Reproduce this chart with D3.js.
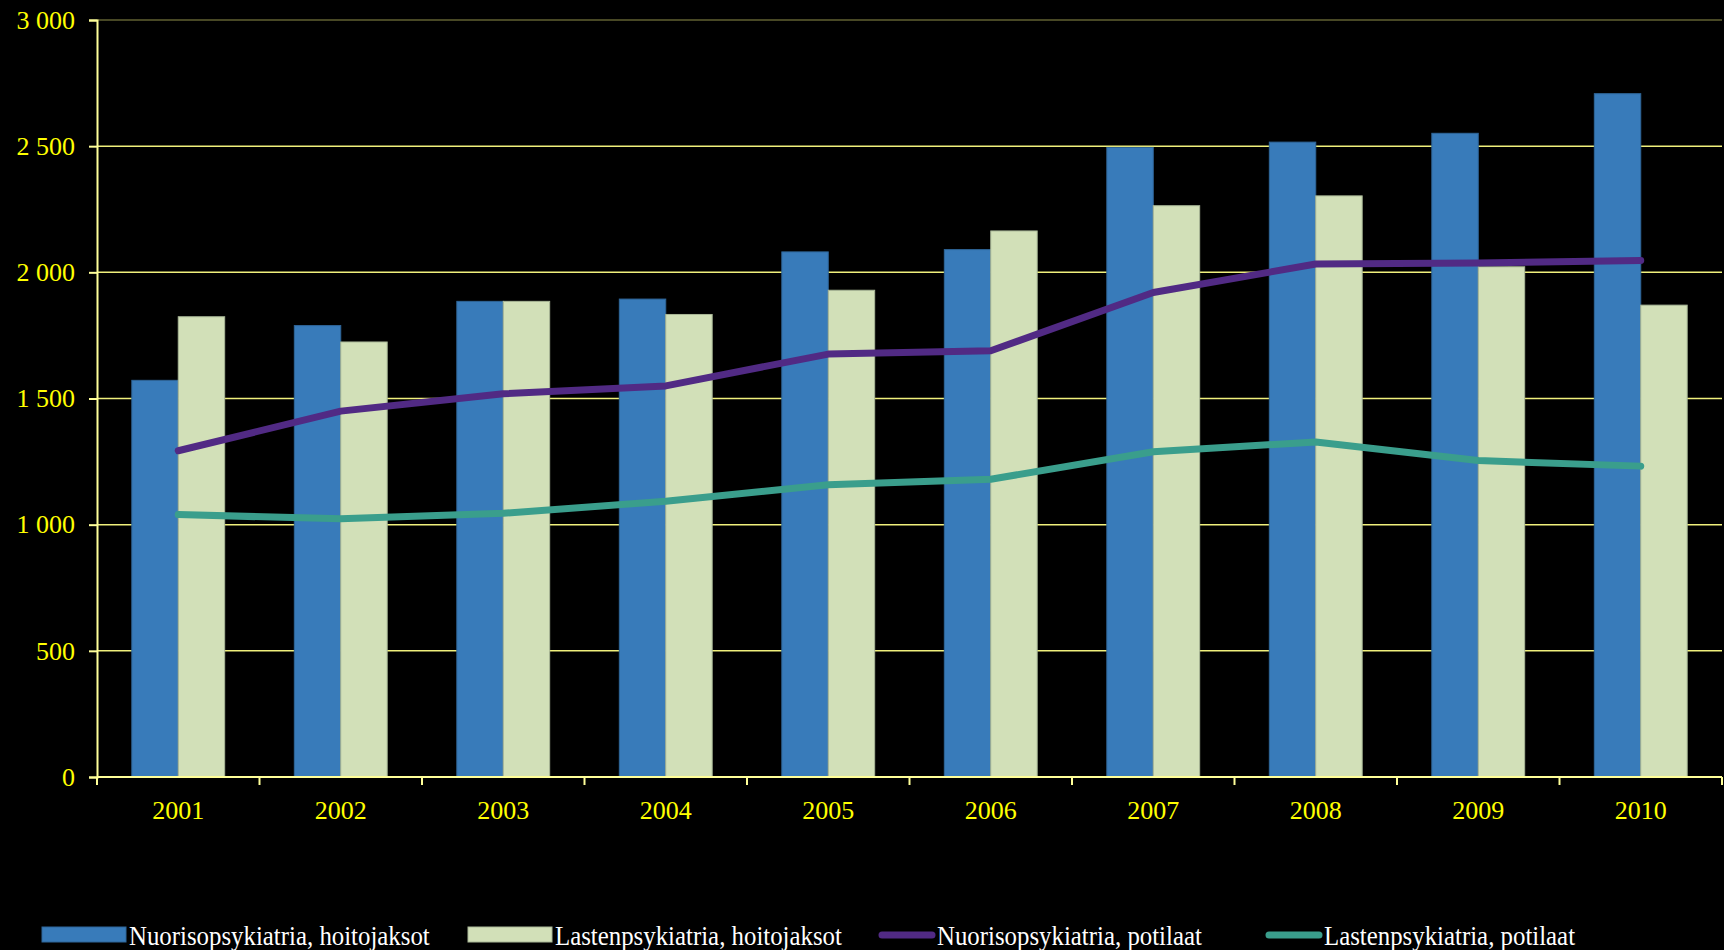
<!DOCTYPE html>
<html>
<head>
<meta charset="utf-8">
<script src="https://cdn.jsdelivr.net/npm/d3@7"></script>
<style>
  html, body { margin: 0; padding: 0; background: #000; }
  svg { display: block; }
</style>
</head>
<body>
<script>
const years = ["2001", "2002", "2003", "2004", "2005", "2006", "2007", "2008", "2009", "2010"];
const nuorisoJaksot = [1572, 1789, 1885, 1894, 2081, 2090, 2495, 2516, 2551, 2708];
const lastenJaksot = [1824, 1724, 1885, 1833, 1929, 2164, 2264, 2303, 2022, 1870];
const nuorisoPotilaat = [1293, 1450, 1519, 1550, 1676, 1689, 1920, 2033, 2037, 2047];
const lastenPotilaat = [1040, 1023, 1045, 1093, 1158, 1180, 1289, 1328, 1254, 1232];
const yTicks = [0, 500, 1000, 1500, 2000, 2500, 3000];
const barNames = ["Nuorisopsykiatria, hoitojaksot", "Lastenpsykiatria, hoitojaksot"];
const lineNames = ["Nuorisopsykiatria, potilaat", "Lastenpsykiatria, potilaat"];

const width = 1724;
const height = 950;
const margin = {top: 20, right: 2, bottom: 173, left: 97};
const serif = "'Liberation Serif', 'Times New Roman', serif";

const barColors = ["#387bba", "#d2e0b8"];
const barStrokes = ["#2f6699", "#a9b797"];
const lineColors = ["#512a84", "#3a9e8c"];

const fmt = d3.formatLocale({decimal: ",", thousands: " ", grouping: [3], currency: ["", ""]}).format(",");

const x = d3.scaleBand()
    .domain(years)
    .range([margin.left, width - margin.right]);

const y = d3.scaleLinear()
    .domain([0, 3000])
    .range([height - margin.bottom, margin.top]);

const barW = x.bandwidth() / 3.5;
const x1 = d3.scaleBand()
    .domain(barNames)
    .range([-barW, barW]);

const svg = d3.select("body").append("svg")
    .attr("width", width)
    .attr("height", height)
    .attr("font-family", serif);

svg.append("rect")
    .attr("width", width)
    .attr("height", height)
    .attr("fill", "#000");

// gridlines
svg.append("g")
  .selectAll("line")
  .data(yTicks.slice(1))
  .join("line")
    .attr("x1", margin.left)
    .attr("x2", width - margin.right)
    .attr("y1", d => y(d))
    .attr("y2", d => y(d))
    .attr("stroke", "#f0f07c")
    .attr("stroke-opacity", d => d === 3000 ? 0.4 : 1)
    .attr("stroke-width", 1.5);

// bars
const series = [nuorisoJaksot, lastenJaksot];
series.forEach((vals, i) => {
  svg.append("g")
    .selectAll("rect")
    .data(years.map((yr, j) => ({yr, v: vals[j]})))
    .join("rect")
      .attr("x", d => x(d.yr) + x.bandwidth() / 2 + x1(barNames[i]))
      .attr("y", d => y(d.v))
      .attr("width", x1.bandwidth())
      .attr("height", d => y(0) - y(d.v))
      .attr("fill", barColors[i])
      .attr("stroke", barStrokes[i])
      .attr("stroke-width", 1);
});

// y axis
const yAxis = svg.append("g")
    .attr("transform", `translate(${margin.left},0)`)
    .call(d3.axisLeft(y).tickValues(yTicks).tickFormat(fmt).tickSize(8).tickPadding(14))
    .attr("font-family", serif);
yAxis.selectAll("line").attr("stroke", "#ffff99").attr("stroke-width", 2);
yAxis.select(".domain").attr("stroke", "#ffff99").attr("stroke-width", 2);
yAxis.selectAll("text")
    .attr("fill", "#ffff00")
    .attr("font-size", 26);

// x axis
const xg = svg.append("g");
xg.append("line")
    .attr("x1", margin.left)
    .attr("x2", width - margin.right)
    .attr("y1", y(0))
    .attr("y2", y(0))
    .attr("stroke", "#ffff99")
    .attr("stroke-width", 2);
xg.selectAll(".tk")
  .data(years.concat(["end"]))
  .join("line")
    .attr("class", "tk")
    .attr("x1", d => d === "end" ? x.range()[1] : x(d))
    .attr("x2", d => d === "end" ? x.range()[1] : x(d))
    .attr("y1", y(0))
    .attr("y2", y(0) + 8)
    .attr("stroke", "#ffff99")
    .attr("stroke-width", 2);
xg.selectAll("text")
  .data(years)
  .join("text")
    .attr("x", d => x(d) + x.bandwidth() / 2)
    .attr("y", y(0) + 42)
    .attr("text-anchor", "middle")
    .attr("fill", "#ffff00")
    .attr("font-size", 26)
    .text(d => d);

// lines
const lineGen = d3.line()
    .x((d, j) => x(years[j]) + x.bandwidth() / 2)
    .y(d => y(d));
[nuorisoPotilaat, lastenPotilaat].forEach((vals, i) => {
  svg.append("path")
      .datum(vals)
      .attr("fill", "none")
      .attr("stroke", lineColors[i])
      .attr("stroke-width", 7)
      .attr("stroke-linejoin", "round")
      .attr("stroke-linecap", "round")
      .attr("d", lineGen);
});

// legend
const legendY = 935;
const legend = svg.append("g");
const items = [
  {name: barNames[0], type: "bar", color: barColors[0], stroke: barStrokes[0], x: 42},
  {name: barNames[1], type: "bar", color: barColors[1], stroke: barStrokes[1], x: 468},
  {name: lineNames[0], type: "line", color: lineColors[0], x: 878},
  {name: lineNames[1], type: "line", color: lineColors[1], x: 1265}
];
items.forEach(it => {
  const g = legend.append("g").attr("transform", `translate(${it.x},${legendY})`);
  if (it.type === "bar") {
    g.append("rect")
        .attr("x", 0).attr("y", -8)
        .attr("width", 84).attr("height", 15)
        .attr("fill", it.color)
        .attr("stroke", it.stroke);
  } else {
    g.append("line")
        .attr("x1", 4).attr("x2", 54)
        .attr("y1", 0).attr("y2", 0)
        .attr("stroke", it.color)
        .attr("stroke-width", 7)
        .attr("stroke-linecap", "round");
  }
  g.append("text")
      .attr("transform", `translate(${it.type === "bar" ? 87 : 59},10) scale(0.92,1)`)
      .attr("fill", "#fff")
      .attr("font-size", 27)
      .text(it.name);
});
</script>
</body>
</html>
